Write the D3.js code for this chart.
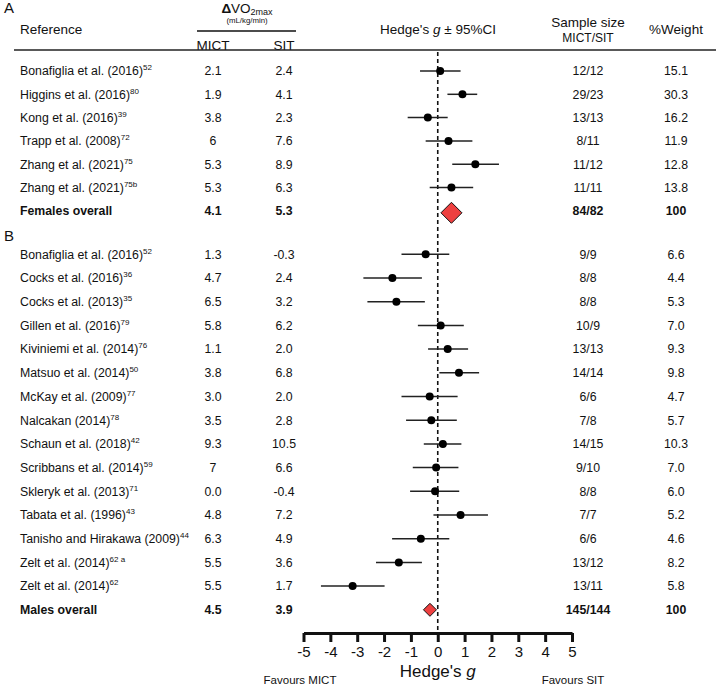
<!DOCTYPE html>
<html><head><meta charset="utf-8">
<script src="https://cdn.jsdelivr.net/npm/d3@7"></script>
<style>
body{margin:0;background:#fff;}
svg{font-family:"Liberation Sans",Arial,sans-serif;}
</style></head>
<body><svg id="c" width="723" height="690"></svg>
<script>
// ---- Data ----
const femaleRefs = ["Bonafiglia et al. (2016)","Higgins et al. (2016)","Kong et al. (2016)","Trapp et al. (2008)","Zhang et al. (2021)","Zhang et al. (2021)"];
const femaleSup  = ["52","80","39","72","75","75b"];
const femaleMICT = ["2.1","1.9","3.8","6","5.3","5.3"];
const femaleSIT  = ["2.4","4.1","2.3","7.6","8.9","6.3"];
const femaleG    = [0.09,0.92,-0.37,0.40,1.40,0.51];
const femaleLo   = [-0.66,0.36,-1.12,-0.45,0.54,-0.30];
const femaleHi   = [0.85,1.47,0.37,1.29,2.28,1.32];
const femaleN    = ["12/12","29/23","13/13","8/11","11/12","11/11"];
const femaleW    = ["15.1","30.3","16.2","11.9","12.8","13.8"];
const femaleOverall = {label:"Females overall", mict:"4.1", sit:"5.3", g:0.51, n:"84/82", w:"100"};

const maleRefs = ["Bonafiglia et al. (2016)","Cocks et al. (2016)","Cocks et al. (2013)","Gillen et al. (2016)","Kiviniemi et al. (2014)","Matsuo et al. (2014)","McKay et al. (2009)","Nalcakan (2014)","Schaun et al. (2018)","Scribbans et al. (2014)","Skleryk et al. (2013)","Tabata et al. (1996)","Tanisho and Hirakawa (2009)","Zelt et al. (2014)","Zelt et al. (2014)"];
const maleSup  = ["52","36","35","79","76","50","77","78","42","59","71","43","44","62 a","62"];
const maleMICT = ["1.3","4.7","6.5","5.8","1.1","3.8","3.0","3.5","9.3","7","0.0","4.8","6.3","5.5","5.5"];
const maleSIT  = ["-0.3","2.4","3.2","6.2","2.0","6.8","2.0","2.8","10.5","6.6","-0.4","7.2","4.9","3.6","1.7"];
const maleG    = [-0.45,-1.69,-1.54,0.11,0.37,0.79,-0.30,-0.24,0.19,-0.06,-0.10,0.85,-0.63,-1.45,-3.17];
const maleLo   = [-1.35,-2.77,-2.62,-0.74,-0.36,0.06,-1.35,-1.18,-0.52,-0.93,-1.03,-0.16,-1.70,-2.30,-4.35];
const maleHi   = [0.43,-0.59,-0.48,0.97,1.13,1.54,0.74,0.71,0.88,0.77,0.80,1.87,0.43,-0.59,-1.98];
const maleN    = ["9/9","8/8","8/8","10/9","13/13","14/14","6/6","7/8","14/15","9/10","8/8","7/7","6/6","13/12","13/11"];
const maleW    = ["6.6","4.4","5.3","7.0","9.3","9.8","4.7","5.7","10.3","7.0","6.0","5.2","4.6","8.2","5.8"];
const maleOverall = {label:"Males overall", mict:"4.5", sit:"3.9", g:-0.29, n:"145/144", w:"100"};

const xTicks = [-5,-4,-3,-2,-1,0,1,2,3,4,5];

// ---- Layout ----
const svg = d3.select("#c");
const x = d3.scaleLinear().domain([-5,5]).range([303.5,572]);
const yA = d3.scaleLinear().domain([0,1]).range([71,94.3]);
const yB = d3.scaleLinear().domain([0,1]).range([254.3,278]);
const colRef = 20, colMICT = 213, colSIT = 284, colN = 588, colW = 676;
const fs = 12.3;

function text(t, xx, yy, opts={}){
  return svg.append("text").attr("x",xx).attr("y",yy).attr("dy","0.35em")
    .attr("font-size",opts.size||fs).attr("text-anchor",opts.anchor||"start")
    .attr("font-weight",opts.bold?"bold":"normal").attr("fill","#111").text(t);
}

// Header
text("A",4,8,{size:15});
text("Reference",20,29,{size:13.5});
const dv = svg.append("text").attr("x",247).attr("y",13).attr("text-anchor","middle").attr("font-size",13.5).attr("fill","#111");
dv.append("tspan").attr("font-weight","bold").text("Δ");
dv.append("tspan").text("VO");
dv.append("tspan").attr("font-size",9).attr("dy","2.3").text("2max");
svg.append("text").attr("x",247).attr("y",23).attr("text-anchor","middle").attr("font-size",7.8).attr("fill","#111").text("(mL/kg/min)");
svg.append("line").attr("x1",197).attr("x2",296).attr("y1",31).attr("y2",31).attr("stroke","#111").attr("stroke-width",1.3);
text("MICT",colMICT,45,{size:13.5,anchor:"middle"});
text("SIT",colSIT,45,{size:13.5,anchor:"middle"});
const hg = svg.append("text").attr("x",438).attr("y",29).attr("dy","0.35em").attr("text-anchor","middle").attr("font-size",13.5).attr("fill","#111");
hg.append("tspan").text("Hedge's ");
hg.append("tspan").attr("font-style","italic").text("g");
hg.append("tspan").text(" ± 95%CI");
text("Sample size",colN,22,{size:13.5,anchor:"middle"});
text("MICT/SIT",colN,38,{size:12,anchor:"middle"});
text("%Weight",colW,29,{size:13.5,anchor:"middle"});
svg.append("line").attr("x1",14).attr("x2",716).attr("y1",50).attr("y2",50).attr("stroke","#222").attr("stroke-width",1.6);

// Zero line
svg.append("line").attr("x1",x(0)).attr("x2",x(0)).attr("y1",52).attr("y2",633)
  .attr("stroke","#111").attr("stroke-width",1.6).attr("stroke-dasharray","4,3");

text("B",4,236,{size:15});

function drawSection(refs,sups,mict,sit,g,lo,hi,n,w,overall,y){
  refs.forEach((r,i)=>{
    const t = svg.append("text").attr("x",colRef).attr("y",y(i)).attr("dy","0.35em").attr("font-size",fs).attr("fill","#111");
    t.append("tspan").text(r);
    t.append("tspan").attr("font-size",8).attr("dy","-5").text(sups[i]);
    text(mict[i],colMICT,y(i),{anchor:"middle"});
    text(sit[i],colSIT,y(i),{anchor:"middle"});
    text(n[i],colN,y(i),{anchor:"middle"});
    text(w[i],colW,y(i),{anchor:"middle"});
    svg.append("line").attr("x1",x(lo[i])).attr("x2",x(hi[i])).attr("y1",y(i)).attr("y2",y(i))
      .attr("stroke","#222").attr("stroke-width",1.5);
    svg.append("circle").attr("cx",x(g[i])).attr("cy",y(i)).attr("r",4).attr("fill","#000");
  });
  const k = refs.length;
  text(overall.label,colRef,y(k),{bold:true});
  text(overall.mict,colMICT,y(k),{bold:true,anchor:"middle"});
  text(overall.sit,colSIT,y(k),{bold:true,anchor:"middle"});
  text(overall.n,colN,y(k),{bold:true,anchor:"middle"});
  text(overall.w,colW,y(k),{bold:true,anchor:"middle"});
  return k;
}
const kA = drawSection(femaleRefs,femaleSup,femaleMICT,femaleSIT,femaleG,femaleLo,femaleHi,femaleN,femaleW,femaleOverall,yA);
const kB = drawSection(maleRefs,maleSup,maleMICT,maleSIT,maleG,maleLo,maleHi,maleN,maleW,maleOverall,yB);

function diamond(cx,cy,h){
  svg.append("path").attr("d",`M${cx-h},${cy}L${cx},${cy-h}L${cx+h},${cy}L${cx},${cy+h}Z`)
    .attr("fill","#ee4040").attr("stroke","#111").attr("stroke-width",1);
}
diamond(x(femaleOverall.g), yA(kA)+2, 10.5);
diamond(x(maleOverall.g), yB(kB), 6.5);

// Axis
const axis = svg.append("g").attr("transform","translate(0,633)")
  .call(d3.axisBottom(x).tickValues(xTicks).tickSize(9).tickSizeOuter(0).tickFormat(d => String(d)));
axis.select(".domain").attr("stroke","#111").attr("stroke-width",3);
axis.selectAll(".tick line").attr("stroke","#111").attr("stroke-width",3);
axis.selectAll(".tick text").attr("font-size",15).attr("font-family","Liberation Sans, Arial, sans-serif").attr("fill","#111").attr("dy","0.9em").attr("y",10);
const hx = svg.append("text").attr("x",x(0)).attr("y",671).attr("dy","0.35em").attr("text-anchor","middle").attr("font-size",17).attr("fill","#111");
hx.append("tspan").text("Hedge's ");
hx.append("tspan").attr("font-style","italic").text("g");
text("Favours MICT",300,680,{size:11.5,anchor:"middle"});
text("Favours SIT",573,680,{size:11.5,anchor:"middle"});
</script></body></html>
